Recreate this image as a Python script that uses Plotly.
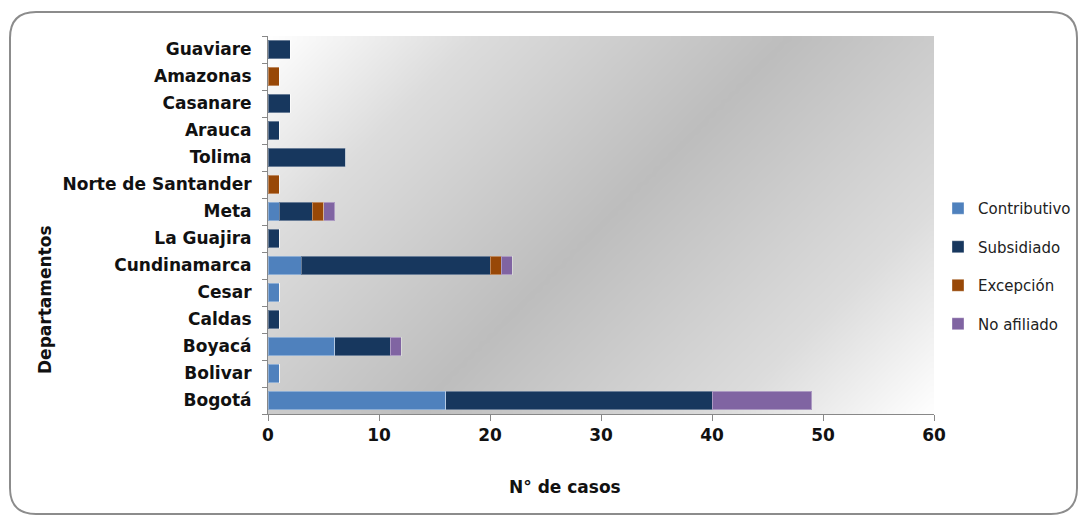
import numpy as np
import plotly.graph_objects as go

# Departamentos, top to bottom as listed on the chart
departamentos = ["Guaviare", "Amazonas", "Casanare", "Arauca", "Tolima",
                 "Norte de Santander", "Meta", "La Guajira", "Cundinamarca",
                 "Cesar", "Caldas", "Boyacá", "Bolivar", "Bogotá"]

contributivo = [0, 0, 0, 0, 0, 0, 1, 0, 3, 1, 0, 6, 1, 16]
subsidiado   = [2, 0, 2, 1, 7, 0, 3, 1, 17, 0, 1, 5, 0, 24]
excepcion    = [0, 1, 0, 0, 0, 1, 1, 0, 1, 0, 0, 0, 0, 0]
no_afiliado  = [0, 0, 0, 0, 0, 0, 1, 0, 1, 0, 0, 1, 0, 9]

x_ticks = [0, 10, 20, 30, 40, 50, 60]

series = [
    ("Contributivo", contributivo, "#4f81bd"),
    ("Subsidiado", subsidiado, "#17375e"),
    ("Excepción", excepcion, "#984807"),
    ("No afiliado", no_afiliado, "#8064a2"),
]

W, H = 1081, 517
L, R, T, B = 268, 934, 36, 414          # plot area in pixels
PW, PH = R - L, B - T

fig = go.Figure()

# Diagonal grey shading behind the bars (light corners, darker centre band)
nx, ny = 80, 50
u = (np.arange(nx) + 0.5) / nx
v = (np.arange(ny) + 0.5) / ny
U, V = np.meshgrid(u, v)
t = (U * PW + (1 - V) * PH) / (PW + PH)
shade = np.abs(t - 0.5) * 2
fig.add_trace(go.Heatmap(
    z=shade, x=u, y=v, xaxis="x", yaxis="y",
    zsmooth="best", showscale=False, hoverinfo="skip",
    zmin=0, zmax=1,
    colorscale=[[0, "#bdbdbd"], [0.6, "#dcdcdc"], [1, "#ffffff"]],
))

for name, vals, color in series:
    fig.add_trace(go.Bar(
        y=departamentos, x=vals, name=name, orientation="h",
        xaxis="x2", yaxis="y2", legendgroup=name,
        marker=dict(color=color, line=dict(color="rgba(255,255,255,0.35)", width=1)),
    ))

label_font = dict(family="DejaVu Sans", size=17, color="#111111", weight="bold")

fig.update_layout(
    width=W, height=H,
    margin=dict(l=L, r=W - R, t=T, b=H - B, pad=0, autoexpand=False),
    paper_bgcolor="white", plot_bgcolor="rgba(0,0,0,0)",
    barmode="stack", bargap=0.32,
    xaxis=dict(range=[0, 1], visible=False, fixedrange=True),
    yaxis=dict(range=[0, 1], visible=False, fixedrange=True),
    xaxis2=dict(
        overlaying="x", range=[0, 60], tickvals=x_ticks, showgrid=False,
        zeroline=False, showline=True, linecolor="#888888", linewidth=1,
        ticks="outside", ticklen=6, tickcolor="#888888",
        tickfont=label_font, anchor="y2",
    ),
    yaxis2=dict(
        overlaying="y", type="category",
        categoryorder="array", categoryarray=departamentos[::-1],
        showgrid=False, zeroline=False, showline=True, linecolor="#888888",
        linewidth=1, ticks="outside", ticklen=5, tickcolor="#888888",
        tickson="boundaries", tickfont=label_font, ticklabelstandoff=12,
        anchor="x2",
    ),
    legend=dict(
        x=(938 - L) / PW, y=(414 - 266) / PH, xanchor="left", yanchor="middle",
        traceorder="grouped", tracegroupgap=16,
        font=dict(family="DejaVu Sans", size=15, color="#222222"),
        bgcolor="rgba(0,0,0,0)", itemwidth=30,
    ),
    showlegend=True,
)

def px_x(p):
    return (p - L) / PW

def px_y(p):
    return (B - p) / PH

# Rounded chart border
x0, y0, x1, y1, r = 10, 12, 1077, 514, 26
path = (
    f"M {px_x(x0 + r)},{px_y(y0)} L {px_x(x1 - r)},{px_y(y0)} "
    f"Q {px_x(x1)},{px_y(y0)} {px_x(x1)},{px_y(y0 + r)} "
    f"L {px_x(x1)},{px_y(y1 - r)} Q {px_x(x1)},{px_y(y1)} {px_x(x1 - r)},{px_y(y1)} "
    f"L {px_x(x0 + r)},{px_y(y1)} Q {px_x(x0)},{px_y(y1)} {px_x(x0)},{px_y(y1 - r)} "
    f"L {px_x(x0)},{px_y(y0 + r)} Q {px_x(x0)},{px_y(y0)} {px_x(x0 + r)},{px_y(y0)} Z"
)
fig.add_shape(type="path", path=path, xref="paper", yref="paper",
              line=dict(color="#8c8c8c", width=2), layer="below")

fig.add_annotation(text="N° de casos", x=px_x(565), y=px_y(487), xref="paper",
                   yref="paper", showarrow=False, font=label_font,
                   xanchor="center", yanchor="middle")
fig.add_annotation(text="Departamentos", x=px_x(45), y=px_y(300), xref="paper",
                   yref="paper", showarrow=False, font=label_font, textangle=-90,
                   xanchor="center", yanchor="middle")

fig.write_html("out.html")
